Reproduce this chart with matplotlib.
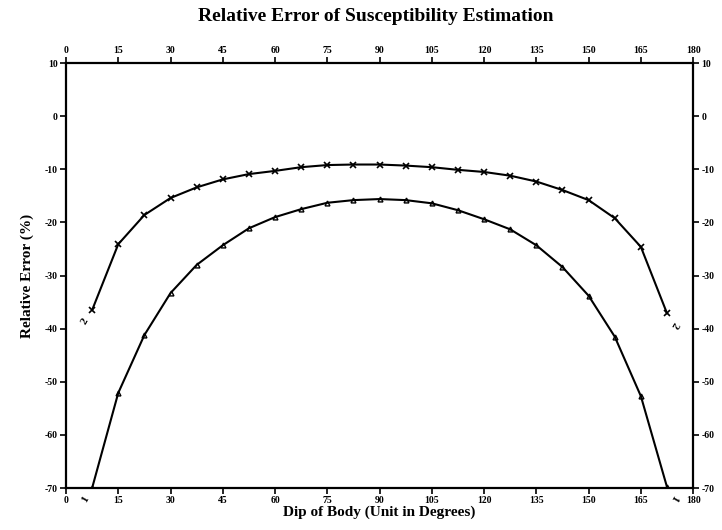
"""
Relative error of susceptibility estimation vs. dip of body
"""
import numpy as np
import matplotlib
matplotlib.use("Agg")
import matplotlib.pyplot as plt

# dip angles (degrees)
dip = [7.5, 15, 22.5, 30, 37.5, 45, 52.5, 60, 67.5, 75, 82.5, 90,
       97.5, 105, 112.5, 120, 127.5, 135, 142.5, 150, 157.5, 165, 172.5]

# curve 1 (triangles)
err_1 = [-70.0, -52.1, -41.2, -33.3, -28.0, -24.3, -21.1, -19.0, -17.5, -16.3,
         -15.8, -15.6, -15.8, -16.4, -17.7, -19.4, -21.3, -24.3, -28.4, -33.8,
         -41.5, -52.7, -69.8]

# curve 2 (crosses)
err_2 = [-36.5, -24.1, -18.6, -15.4, -13.4, -11.9, -10.9, -10.3, -9.6, -9.2,
         -9.1, -9.1, -9.3, -9.6, -10.1, -10.5, -11.2, -12.3, -13.9, -15.8,
         -19.2, -24.6, -37.1]

x_ticks = list(range(0, 181, 15))
y_ticks = list(range(-70, 11, 10))

plt.rcParams['font.family'] = ['Liberation Serif', 'DejaVu Serif']
plt.rcParams['font.weight'] = 'bold'
plt.rcParams['axes.unicode_minus'] = False

fig = plt.figure(figsize=(7.22, 5.30), dpi=100)
ax = fig.add_axes([0.0914, 0.0792, 0.8686, 0.8018])

ax.plot(dip, err_2, color='black', lw=1.5, marker='x', ms=5, mew=1.2)
ax.plot(dip, err_1, color='black', lw=1.5, marker='^', ms=3.5,
        mfc='none', mew=1.0)

# curve labels at the ends
ax.annotate('2', (dip[0], err_2[0]), xytext=(-5, -8), textcoords='offset points',
            fontsize=8, rotation=60, ha='center', va='center')
ax.annotate('2', (dip[-1], err_2[-1]), xytext=(5, -8), textcoords='offset points',
            fontsize=8, rotation=-120, ha='center', va='center')
ax.annotate('1', (dip[0], err_1[0]), xytext=(-5, -8), textcoords='offset points',
            fontsize=8, rotation=60, ha='center', va='center')
ax.annotate('1', (dip[-1], err_1[-1]), xytext=(5, -8), textcoords='offset points',
            fontsize=8, rotation=-120, ha='center', va='center')

ax.set_xlim(0, 180)
ax.set_ylim(-70, 10)
ax.set_xticks(x_ticks)
ax.set_yticks(y_ticks)
ax.tick_params(axis='both', which='both', direction='out', length=4, width=1.2,
               labelsize=7, top=True, right=True, labeltop=True, labelright=True,
               pad=2)
for lab in ax.get_xticklabels() + ax.get_yticklabels():
    lab.set_fontweight('bold')
for sp in ax.spines.values():
    sp.set_linewidth(1.6)

ax.set_xlabel('Dip of Body (Unit in Degrees)', fontsize=11, fontweight='bold',
              labelpad=0)
ax.set_ylabel('Relative Error (%)', fontsize=11, fontweight='bold', labelpad=8)
fig.suptitle('Relative Error of Susceptibility Estimation', fontsize=14,
             fontweight='bold', x=0.52, y=0.985)

fig.savefig('out.png', dpi=100)
